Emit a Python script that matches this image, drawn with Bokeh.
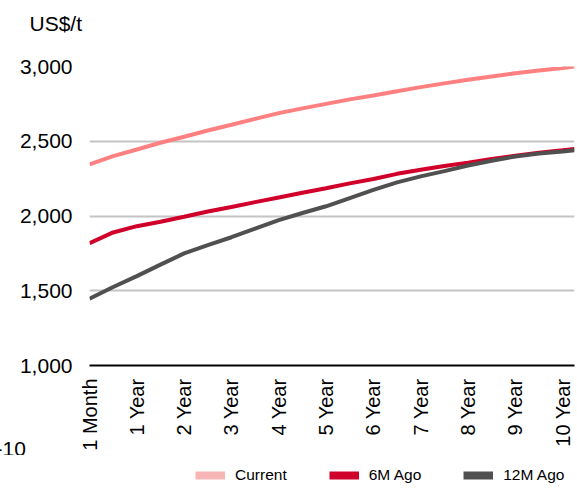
import math
from bokeh.plotting import figure
from bokeh.layouts import column
from bokeh.models import Range1d, FixedTicker, NumeralTickFormatter, Legend, LegendItem, Title
from bokeh.embed import file_html
from bokeh.resources import INLINE

# ---- data ----
months = [0, 6, 12, 18, 24, 30, 36, 42, 48, 54, 60, 66, 72, 78, 84, 90, 96, 102, 108, 114, 120, 123]
current = [2345, 2400, 2445, 2490, 2530, 2572, 2610, 2650, 2688, 2720, 2750, 2780, 2806, 2835,
           2862, 2887, 2911, 2933, 2955, 2973, 2990, 3000]
six_m_ago = [1818, 1890, 1932, 1962, 1995, 2030, 2060, 2093, 2124, 2155, 2186, 2218, 2248, 2282,
             2309, 2334, 2357, 2381, 2403, 2423, 2440, 2449]
twelve_m_ago = [1446, 1525, 1598, 1675, 1750, 1805, 1858, 1915, 1972, 2020, 2065, 2120, 2175, 2225,
                2265, 2300, 2338, 2370, 2398, 2418, 2431, 2440]
series_names = ["Current", "6M Ago", "12M Ago"]
tick_months = [0, 12, 24, 36, 48, 60, 72, 84, 96, 108, 120]
tick_labels = ["1 Month", "1 Year", "2 Year", "3 Year", "4 Year", "5 Year",
               "6 Year", "7 Year", "8 Year", "9 Year", "10 Year"]
y_ticks = [1000, 1500, 2000, 2500, 3000]
unit_label = "US$/t"
cut_label = "-10"

FONT = "Liberation Sans"
line_colors = ["#FF8080", "#D0002A", "#505050"]
swatch_colors = ["#F7B5B5", "#D0002A", "#505050"]
W = 577


def bare_figure(h):
    f = figure(width=W, height=h, output_backend="svg", toolbar_location=None,
               x_axis_type=None, y_axis_type=None,
               x_range=Range1d(0, 1), y_range=Range1d(0, 1),
               min_border_left=0, min_border_right=0, min_border_top=0, min_border_bottom=0)
    f.outline_line_color = None
    f.xgrid.grid_line_color = None
    f.ygrid.grid_line_color = None
    f.border_fill_color = "white"
    f.background_fill_color = "white"
    return f


# ---- top strip: unit label (title panel, left of the aligned frame) ----
p_top = bare_figure(50)
p_top.add_layout(Title(text=unit_label, align="left", offset=-60, vertical_align="top",
                       standoff=22, text_font=FONT, text_font_size="21px",
                       text_font_style="normal", text_color="#000000"), "above")

# ---- main chart ----
p = figure(width=W, height=405, output_backend="svg", toolbar_location=None,
           x_range=Range1d(0, 123), y_range=Range1d(1000, 3000),
           min_border_left=89, min_border_right=3, min_border_top=16, min_border_bottom=90)
p.outline_line_color = None
p.background_fill_color = "white"
p.border_fill_color = "white"

p.xgrid.grid_line_color = None
p.ygrid.grid_line_color = "#C4C4C4"
p.ygrid.grid_line_width = 2
p.ygrid.ticker = FixedTicker(ticks=y_ticks)

p.yaxis.ticker = FixedTicker(ticks=y_ticks)
p.yaxis.formatter = NumeralTickFormatter(format="0,0")
p.yaxis.axis_line_color = None
p.yaxis.major_tick_line_color = None
p.yaxis.minor_tick_line_color = None
p.yaxis.major_tick_out = 0
p.yaxis.major_label_standoff = 17
p.yaxis.major_label_text_font = FONT
p.yaxis.major_label_text_font_size = "21px"
p.yaxis.major_label_text_color = "#000000"

p.xaxis.ticker = FixedTicker(ticks=tick_months)
p.xaxis.major_label_overrides = {m: l for m, l in zip(tick_months, tick_labels)}
p.xaxis.major_label_orientation = math.pi / 2
p.xaxis.axis_line_color = "#000000"
p.xaxis.axis_line_width = 2
p.xaxis.major_tick_line_color = None
p.xaxis.minor_tick_line_color = None
p.xaxis.major_tick_out = 0
p.xaxis.major_label_standoff = 13
p.xaxis.major_label_text_font = FONT
p.xaxis.major_label_text_font_size = "20px"
p.xaxis.major_label_text_color = "#000000"

for vals, col in zip([current, six_m_ago, twelve_m_ago], line_colors):
    p.line(months, vals, line_width=4, line_color=col)

# cut-off label under the axis, left of the frame
p.add_layout(Title(text=cut_label, align="left", offset=-94, vertical_align="top",
                   standoff=-24, text_font=FONT, text_font_size="21px",
                   text_font_style="normal", text_color="#000000"), "below")

# ---- bottom strip: legend (frame is aligned with the chart's frame) ----
p_leg = bare_figure(35)
items = []
for name, vals, col in zip(series_names, [current, six_m_ago, twelve_m_ago], swatch_colors):
    r = p_leg.line(months, vals, line_width=8, line_color=col)  # off-range: only its swatch shows
    items.append(LegendItem(label=name, renderers=[r]))
legend = Legend(items=items, orientation="horizontal", location=(106, 6),
                label_text_font=FONT, label_text_font_size="15.5px", label_text_color="#000000",
                glyph_width=30, glyph_height=18, label_height=18, label_standoff=10, spacing=42,
                padding=0, margin=0, border_line_color=None, background_fill_alpha=0)
p_leg.add_layout(legend)

layout = column(p_top, p, p_leg, spacing=0)
open("out.html", "w").write(file_html(layout, INLINE))
